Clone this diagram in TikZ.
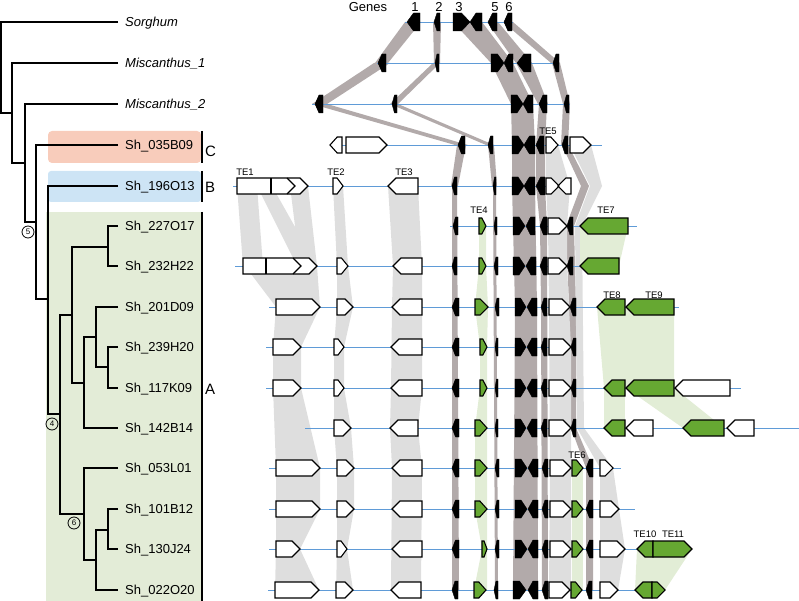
\documentclass[tikz,border=0pt]{standalone}
\usepackage{fontspec}
\setmainfont{Liberation Sans}

\definecolor{lineblue}{RGB}{95,155,215}
\definecolor{bandgene}{RGB}{178,170,170}
\definecolor{bandte}{RGB}{222,222,222}
\definecolor{bandgreen}{RGB}{226,237,214}
\definecolor{tefill}{RGB}{102,168,50}
\definecolor{boxC}{RGB}{248,204,187}
\definecolor{boxB}{RGB}{205,228,245}
\definecolor{boxA}{RGB}{227,236,215}

\newcommand{\tefwd}[4][tebox]{%
	\pgfmathsetmacro\tiplen{min(8,0.6*(#3-#2))}%
	\draw[#1] (#2,#4-8) -- (#3-\tiplen,#4-8) -- (#3,#4) -- (#3-\tiplen,#4+8) -- (#2,#4+8) -- cycle;}
\newcommand{\tebwd}[4][tebox]{%
	\pgfmathsetmacro\tiplen{min(8,0.6*(#3-#2))}%
	\draw[#1] (#3,#4-8) -- (#2+\tiplen,#4-8) -- (#2,#4) -- (#2+\tiplen,#4+8) -- (#3,#4+8) -- cycle;}
\newcommand{\gfwd}[3]{\draw[genebox] (#1,#3-9) -- ({0.5*(#1+#2)},#3-9) -- (#2,#3) -- ({0.5*(#1+#2)},#3+9) -- (#1,#3+9) -- cycle;}
\newcommand{\gbwd}[3]{\draw[genebox] (#2,#3-9) -- ({0.5*(#1+#2)},#3-9) -- (#1,#3) -- ({0.5*(#1+#2)},#3+9) -- (#2,#3+9) -- cycle;}
\newcommand{\hit}[7]{\fill[#1] (#2,#4) -- (#3,#4) -- (#6,#7) -- (#5,#7) -- cycle;}

\begin{document}
\begin{tikzpicture}[x=1pt, y=-1pt,
		tebox/.style={draw=black, fill=white, line width=1.1pt, line join=miter},
		tegreen/.style={tebox, fill=tefill},
		genebox/.style={draw=black, fill=black, line width=0.4pt},
		hitgene/.style={fill=bandgene},
		hitte/.style={fill=bandte},
		hitgreen/.style={fill=bandgreen},
		branch/.style={line width=1.3pt},
		chrom/.style={draw=lineblue, line width=0.9pt},
		lbl/.style={anchor=base west, inner sep=0pt, font=\fontsize{13}{15}\selectfont},
		telbl/.style={anchor=base, inner sep=0pt, font=\fontsize{9.5}{11}\selectfont},
		clade/.style={circle, draw, line width=0.8pt, inner sep=0pt, minimum size=12pt, font=\fontsize{8}{9}\selectfont}]
	
	\useasboundingbox (0,0) rectangle (799,601);
	
	\fill[boxC, rounded corners=4pt] (48,131) rectangle (201,163);
	\fill[boxB, rounded corners=3pt] (48,171) rectangle (201,202);
	\fill[boxA] (46,212) rectangle (201,601);
	\draw[line width=1.5pt] (202,131) -- (202,163);
	\draw[line width=1.5pt] (202,171) -- (202,202);
	\draw[line width=1.5pt] (202,212) -- (202,601);
	\node[lbl, font=\fontsize{15}{17}\selectfont] (cladeC) at (205,157) {C};
	\node[lbl, font=\fontsize{15}{17}\selectfont] (cladeB) at (205,193) {B};
	\node[lbl, font=\fontsize{15}{17}\selectfont] (cladeA) at (205,394) {A};
	
	\hit{hitgene}{405}{421}{22}{375}{388}{63}
	\hit{hitgene}{433}{441}{22}{434}{440}{63}
	\hit{hitgene}{453}{482}{22}{491}{513}{63}
	\hit{hitgene}{487}{498}{22}{516}{532}{63}
	\hit{hitgene}{503}{513}{22}{551}{560}{63}
	\hit{hitgene}{374}{390}{63}{312}{327}{104}
	\hit{hitgene}{433}{440}{63}{390}{398}{104}
	\hit{hitgene}{491}{513}{63}{511}{533}{104}
	\hit{hitgene}{516}{532}{63}{538}{548}{104}
	\hit{hitgene}{552}{560}{63}{563}{570}{104}
	\hit{hitgene}{312}{327}{104}{455}{468}{145}
	\hit{hitgene}{390}{398}{104}{486}{494}{145}
	\hit{hitgene}{563}{570}{104}{561}{568}{145}
	\hit{hitgene}{457}{466}{145}{451}{458}{186}
	\hit{hitgene}{488}{494}{145}{492}{497}{186}
	\fill[hitgene] (452,186) -- (457,186) -- (459,590) -- (452,590) -- cycle;
	\fill[hitgene] (493,186) -- (496,186) -- (498,590) -- (495,590) -- cycle;
	\fill[hitgene] (511,104) -- (533,104) -- (535,145) -- (535,186) -- (537,307) -- (538,590) -- (513,590) -- (515,307) -- (512,186) -- (512,145) -- cycle;
	\fill[hitgene] (539,104) -- (547,104) -- (545,145) -- (545,186) -- (547,226) -- (548,590) -- (542,590) -- (541,307) -- (540,226) -- (536,186) -- (536,145) -- cycle;
	\fill[hitgene] (562,145) -- (568,145) -- (589,186) -- (574,226) -- (576,307) -- (576,428) -- (593,468) -- (593,590) -- (586,590) -- (586,468) -- (571,428) -- (569,307) -- (566,226) -- (581,186) -- cycle;
	
	\hit{hitte}{237}{257}{186}{243}{263}{266}
	\hit{hitte}{257}{272}{186}{297}{317}{266}
	\hit{hitte}{290}{308}{186}{300}{317}{266}
	\hit{hitte}{245}{317}{266}{276}{320}{307}
	\fill[hitte] (276,307) -- (320,307) -- (301,347) -- (301,388) -- (320,468) -- (320,509) -- (300,549) -- (319,590) -- (275,590) -- (276,549) -- (276,468) -- (273,388) -- (273,347) -- cycle;
	\fill[hitte] (333,186) -- (343,186) -- (348,266) -- (353,307) -- (344,347) -- (344,388) -- (351,428) -- (354,468) -- (354,509) -- (347,549) -- (353,590) -- (336,590) -- (337,549) -- (337,468) -- (334,428) -- (334,347) -- (337,307) -- (337,266) -- cycle;
	\fill[hitte] (388,186) -- (418,186) -- (422,266) -- (422,388) -- (418,428) -- (422,468) -- (421,590) -- (391,590) -- (392,468) -- (390,428) -- (391,388) -- (392,307) -- (393,266) -- cycle;
	\fill[hitte] (546,145) -- (558,145) -- (570,186) -- (567,226) -- (567,266) -- (571,347) -- (571,590) -- (549,590) -- (550,468) -- (549,307) -- (548,226) -- (546,186) -- cycle;
	\fill[hitte] (570,145) -- (591,145) -- (602,186) -- (582,226) -- (584,428) -- (613,468) -- (619,509) -- (625,549) -- (618,590) -- (600,590) -- (600,468) -- (577,428) -- (575,226) -- (590,186) -- cycle;
	
	\fill[hitgreen] (479,226) -- (486,226) -- (486,266) -- (488,307) -- (487,347) -- (487,590) -- (474,590) -- (482,549) -- (475,509) -- (475,428) -- (480,388) -- (480,347) -- (475,307) -- (479,266) -- cycle;
	\hit{hitgreen}{580}{628}{226}{580}{619}{266}
	\hit{hitgreen}{597}{674}{307}{604}{674}{388}
	\hit{hitgreen}{604}{625}{388}{604}{625}{428}
	\hit{hitgreen}{626}{674}{388}{683}{724}{428}
	\fill[hitgreen] (572,468) rectangle (583,590);
	\hit{hitgreen}{637}{692}{549}{635}{665}{590}
	
	\draw[chrom] (405,22) -- (513,22);
	\draw[chrom] (377,63) -- (559,63);
	\draw[chrom] (312,104) -- (570,104);
	\draw[chrom] (333,145) -- (602,145);
	\draw[chrom] (233,186) -- (571,186);
	\draw[chrom] (450,226) -- (637,226);
	\draw[chrom] (235,266) -- (619,266);
	\draw[chrom] (269,307) -- (679,307);
	\draw[chrom] (266,347) -- (576,347);
	\draw[chrom] (266,388) -- (741,388);
	\draw[chrom] (305,428) -- (799,428);
	\draw[chrom] (269,468) -- (621,468);
	\draw[chrom] (269,509) -- (635,509);
	\draw[chrom] (269,549) -- (692,549);
	\draw[chrom] (268,590) -- (665,590);
	
	\gbwd{407}{420}{22} \gbwd{434}{440}{22} \gfwd{453}{470}{22} \gbwd{470}{482}{22} \gbwd{488}{497}{22} \gbwd{504}{512}{22}
	
	\gbwd{378}{386}{63} \gbwd{435}{439}{63} \gfwd{491}{504}{63} \gbwd{504}{513}{63} \gbwd{517}{531}{63} \gbwd{553}{559}{63}
	
	\gbwd{315}{323}{104} \gbwd{392}{397}{104} \gfwd{511}{523}{104} \gbwd{523}{533}{104} \gbwd{539}{547}{104} \gbwd{564}{569}{104}
	
	\tebwd{330}{342}{145} \tefwd{346}{387}{145}
	\gbwd{458}{465}{145} \gbwd{488}{493}{145} \gfwd{512}{524}{145} \gbwd{524}{535}{145} \gbwd{536}{544}{145}
	\tefwd{546}{558}{145} \gbwd{562}{568}{145} \tefwd{570}{591}{145}
	
	\tefwd{237}{308}{186}
	\draw[tebox] (271,178) -- (271,194);
	\draw[tebox, fill=none] (287,178) -- (295,186) -- (287,194);
	\tefwd{333}{343}{186} \tebwd{388}{418}{186}
	\gbwd{452}{457}{186} \gbwd{493}{496}{186} \gfwd{512}{524}{186} \gbwd{524}{535}{186} \gbwd{536}{545}{186}
	\tefwd{546}{559}{186} \tebwd{558}{571}{186}
	
	\gbwd{453}{458}{226} \tefwd[tegreen]{479}{486}{226} \gbwd{494}{497}{226}
	\gfwd{513}{525}{226} \gbwd{526}{535}{226} \gbwd{540}{547}{226}
	\tefwd{548}{567}{226} \gbwd{567}{573}{226} \tebwd[tegreen]{580}{628}{226}
	
	\tefwd{243}{317}{266}
	\draw[tebox] (266,258) -- (266,274);
	\draw[tebox, fill=none] (293,258) -- (301,266) -- (293,274);
	\tefwd{337}{348}{266} \tebwd{393}{422}{266}
	\gbwd{452}{457}{266} \tefwd[tegreen]{479}{486}{266} \gbwd{494}{498}{266}
	\gfwd{513}{525}{266} \gbwd{526}{536}{266} \gbwd{540}{547}{266}
	\tefwd{548}{567}{266} \gbwd{567}{573}{266} \tebwd[tegreen]{580}{619}{266}
	
	\tefwd{276}{320}{307} \tefwd{337}{353}{307} \tebwd{392}{422}{307}
	\gbwd{452}{459}{307} \tefwd[tegreen]{475}{488}{307} \gbwd{495}{499}{307}
	\gfwd{515}{526}{307} \gbwd{527}{537}{307} \gbwd{541}{547}{307}
	\tefwd{549}{570}{307} \gbwd{570}{576}{307} \tebwd[tegreen]{597}{625}{307} \tebwd[tegreen]{626}{674}{307}
	
	\tefwd{273}{301}{347} \tefwd{334}{344}{347} \tebwd{391}{422}{347}
	\gbwd{452}{459}{347} \tefwd[tegreen]{480}{487}{347} \gbwd{495}{498}{347}
	\gfwd{515}{526}{347} \gbwd{527}{537}{347} \gbwd{541}{547}{347}
	\tefwd{549}{571}{347} \gbwd{571}{576}{347}
	
	\tefwd{273}{301}{388} \tefwd{334}{344}{388} \tebwd{391}{422}{388}
	\gbwd{452}{459}{388} \tefwd[tegreen]{480}{487}{388} \gbwd{495}{498}{388}
	\gfwd{515}{526}{388} \gbwd{527}{537}{388} \gbwd{541}{547}{388}
	\tefwd{549}{571}{388} \gbwd{571}{576}{388}
	\tebwd[tegreen]{604}{625}{388} \tebwd[tegreen]{626}{674}{388} \tebwd{675}{730}{388}
	
	\tefwd{334}{351}{428} \tebwd{390}{418}{428}
	\gbwd{452}{459}{428} \tefwd[tegreen]{475}{487}{428} \gbwd{495}{498}{428}
	\gfwd{515}{526}{428} \gbwd{527}{537}{428} \gbwd{541}{547}{428}
	\tefwd{549}{571}{428} \gbwd{571}{576}{428}
	\tebwd[tegreen]{604}{625}{428} \tebwd{626}{653}{428} \tebwd[tegreen]{683}{724}{428} \tebwd{727}{754}{428}
	
	\tefwd{276}{320}{468} \tefwd{337}{354}{468} \tebwd{392}{422}{468}
	\gbwd{452}{459}{468} \tefwd[tegreen]{475}{487}{468} \gbwd{495}{499}{468}
	\gfwd{515}{527}{468} \gbwd{528}{538}{468} \gbwd{542}{548}{468}
	\tefwd{550}{571}{468} \tefwd[tegreen]{572}{583}{468} \gbwd{586}{593}{468} \tefwd{600}{613}{468}
	
	\tefwd{276}{320}{509} \tefwd{337}{354}{509} \tebwd{392}{422}{509}
	\gbwd{452}{459}{509} \tefwd[tegreen]{475}{487}{509} \gbwd{495}{499}{509}
	\gfwd{515}{527}{509} \gbwd{528}{538}{509} \gbwd{542}{548}{509}
	\tefwd{550}{571}{509} \tefwd[tegreen]{572}{583}{509} \gbwd{586}{593}{509} \tefwd{600}{619}{509}
	
	\tefwd{276}{300}{549} \tefwd{337}{347}{549} \tebwd{392}{422}{549}
	\gbwd{452}{459}{549} \tefwd[tegreen]{482}{487}{549} \gbwd{495}{499}{549}
	\gfwd{515}{527}{549} \gbwd{528}{538}{549} \gbwd{542}{548}{549}
	\tefwd{550}{571}{549} \tefwd[tegreen]{572}{583}{549} \gbwd{586}{593}{549} \tefwd{600}{625}{549}
	\tebwd[tegreen]{637}{653}{549} \tefwd[tegreen]{653}{692}{549}
	
	\tefwd{275}{319}{590} \tefwd{336}{353}{590} \tebwd{391}{421}{590}
	\gbwd{452}{458}{590} \tefwd[tegreen]{474}{486}{590} \gbwd{494}{498}{590}
	\gfwd{513}{526}{590} \gbwd{528}{538}{590} \gbwd{542}{548}{590}
	\tefwd{549}{570}{590} \tefwd[tegreen]{571}{582}{590} \gbwd{586}{592}{590} \tefwd{600}{618}{590}
	\tebwd[tegreen]{635}{652}{590} \tefwd[tegreen]{652}{665}{590}
	
	\node[lbl, anchor=base] (genes) at (368,12) {Genes};
	\node[lbl, anchor=base] (g1) at (415,12) {1};
	\node[lbl, anchor=base] (g2) at (439,12) {2};
	\node[lbl, anchor=base] (g3) at (459,12) {3};
	\node[lbl, anchor=base] (g5) at (495,12) {5};
	\node[lbl, anchor=base] (g6) at (509,12) {6};
	
	\node[telbl] (te1) at (245,175.5) {TE1};
	\node[telbl] (te2) at (336,175.5) {TE2};
	\node[telbl] (te3) at (404,175.5) {TE3};
	\node[telbl] (te4) at (479,214) {TE4};
	\node[telbl] (te5) at (548,134.5) {TE5};
	\node[telbl] (te7) at (606,214) {TE7};
	\node[telbl] (te8) at (612,298.5) {TE8};
	\node[telbl] (te9) at (654,298.5) {TE9};
	\node[telbl] (te6) at (577,458.5) {TE6};
	\node[telbl] (te10) at (645,537.5) {TE10};
	\node[telbl] (te11) at (673,537.5) {TE11};
	
	\node[lbl, font=\fontsize{13}{15}\selectfont\itshape] (sorghum) at (125,26.7) {Sorghum};
	\node[lbl, font=\fontsize{13}{15}\selectfont\itshape] (misc1) at (125,67.7) {Miscanthus\_1};
	\node[lbl, font=\fontsize{13}{15}\selectfont\itshape] (misc2) at (125,108.7) {Miscanthus\_2};
	\node[lbl] (b035) at (125,149.7) {Sh\_035B09};
	\node[lbl] (o196) at (125,190.7) {Sh\_196O13};
	\node[lbl] (o227) at (125,230.7) {Sh\_227O17};
	\node[lbl] (h232) at (125,270.7) {Sh\_232H22};
	\node[lbl] (d201) at (125,311.7) {Sh\_201D09};
	\node[lbl] (h239) at (125,351.7) {Sh\_239H20};
	\node[lbl] (k117) at (125,392.7) {Sh\_117K09};
	\node[lbl] (b142) at (125,432.7) {Sh\_142B14};
	\node[lbl] (l053) at (125,472.7) {Sh\_053L01};
	\node[lbl] (b101) at (125,513.7) {Sh\_101B12};
	\node[lbl] (j130) at (125,553.7) {Sh\_130J24};
	\node[lbl] (o022) at (125,594.7) {Sh\_022O20};
	
	\draw[branch] (118,22) -| (1,113) -- (12,113);
	\draw[branch] (118,63) -| (12,163) -- (25,163);
	\draw[branch] (118,104) -| (25,222) -- (36,222);
	\draw[branch] (118,145) -| (36,299) -- (48,299);
	\draw[branch] (118,186) -| (48,414) -- (60,414);
	\draw[branch] (72,315) -| (60,514) -- (84,514);
	\draw[branch] (108,247) -| (72,383) -- (84,383);
	\draw[branch] (118,226) -| (108,266) -- (118,266);
	\draw[branch] (96,337) -| (84,428) -- (118,428);
	\draw[branch] (118,307) -| (96,367) -- (108,367);
	\draw[branch] (118,347) -| (108,388) -- (118,388);
	\draw[branch] (118,468) -| (84,560) -- (96,560);
	\draw[branch] (108,530) -| (96,590) -- (118,590);
	\draw[branch] (118,509) -| (108,549) -- (118,549);
	
	\node[clade] (n5) at (28,232) {5};
	\node[clade] (n4) at (52,424) {4};
	\node[clade] (n6) at (74,523) {6};
	
\end{tikzpicture}
\end{document}
